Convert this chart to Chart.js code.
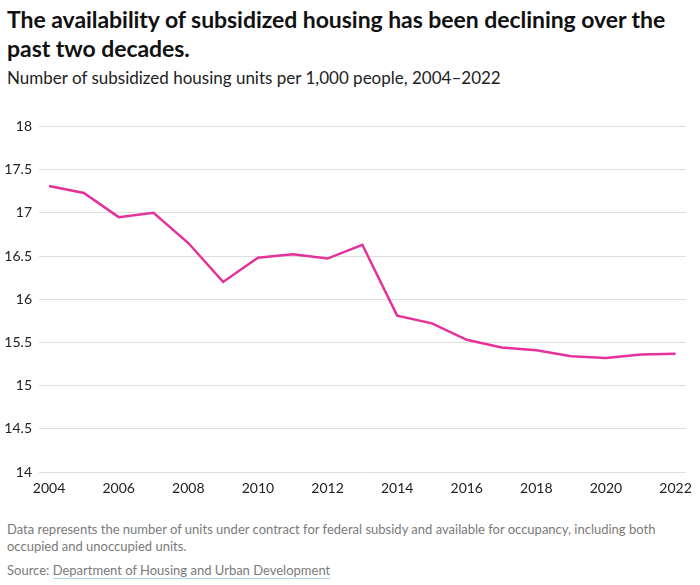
<!DOCTYPE html>
<html>
<head>
<meta charset="utf-8">
<script src="https://cdn.jsdelivr.net/npm/chart.js@4/dist/chart.umd.min.js"></script>
<style>
  html, body { margin: 0; padding: 0; background: #fff; }
  body { width: 700px; height: 585px; position: relative; overflow: hidden; font-family: Lato, "Noto Sans", sans-serif; }
  #title { position: absolute; left: 7px; top: 5px; width: 690px; font-size: 23px; font-weight: 700; line-height: 29px; color: #111; letter-spacing: -0.05px; }
  #subtitle { position: absolute; left: 7px; top: 67px; font-size: 17px; color: #222; }
  #wrap { position: absolute; left: 0; top: 111px; width: 700px; height: 391px; }
  #note { position: absolute; left: 7px; top: 521px; width: 690px; font-size: 13px; line-height: 17px; color: #7a7a7a; }
  #source { position: absolute; left: 7px; top: 562px; font-size: 13px; color: #7a7a7a; }
  #source span { border-bottom: 1.5px solid #a9d4ea; }
</style>
</head>
<body>
<div id="title">The availability of subsidized housing has been declining over the past two decades.</div>
<div id="subtitle">Number of subsidized housing units per 1,000 people, 2004–2022</div>
<div id="wrap"><canvas id="c"></canvas></div>
<div id="note">Data represents the number of units under contract for federal subsidy and available for occupancy, including both occupied and unoccupied units.</div>
<div id="source">Source: <span>Department of Housing and Urban Development</span></div>
<script>
const years = [2004,2005,2006,2007,2008,2009,2010,2011,2012,2013,2014,2015,2016,2017,2018,2019,2020,2021,2022];
const unitsPer1000 = [17.31,17.23,16.95,17.00,16.65,16.20,16.48,16.52,16.47,16.63,15.81,15.72,15.53,15.44,15.41,15.34,15.32,15.36,15.37];
const xTickYears = [2004,2006,2008,2010,2012,2014,2016,2018,2020,2022];
const yTicks = [14,14.5,15,15.5,16,16.5,17,17.5,18];

new Chart(document.getElementById('c'), {
  type: 'line',
  data: {
    datasets: [{
      data: years.map((y, i) => ({ x: y, y: unitsPer1000[i] })),
      borderColor: '#e5329b',
      borderWidth: 2.5,
      pointRadius: 0,
      tension: 0,
      fill: false
    }]
  },
  options: {
    responsive: true,
    maintainAspectRatio: false,
    animation: false,
    layout: { padding: { top: 5, right: 12, left: 0, bottom: 0 } },
    plugins: { legend: { display: false }, tooltip: { enabled: false } },
    scales: {
      x: {
        type: 'linear',
        min: 2003.71,
        max: 2022.29,
        afterBuildTicks: (s) => { s.ticks = xTickYears.map(v => ({ value: v })); },
        afterFit: (s) => { s.height = 30; },
        grid: { display: false, drawTicks: false },
        border: { display: false },
        ticks: { color: '#222', padding: 8, maxRotation: 0, autoSkip: false, font: { family: 'Lato', size: 14 }, callback: (v) => String(v) }
      },
      y: {
        min: 14,
        max: 18,
        afterBuildTicks: (s) => { s.ticks = yTicks.map(v => ({ value: v })); },
        afterFit: (s) => { s.width = 39; },
        grid: { color: '#dedede', lineWidth: 1, drawTicks: false },
        border: { display: false },
        ticks: { color: '#222', padding: 7, font: { family: 'Lato', size: 14 }, callback: (v) => String(v) }
      }
    }
  }
});
</script>
</body>
</html>
